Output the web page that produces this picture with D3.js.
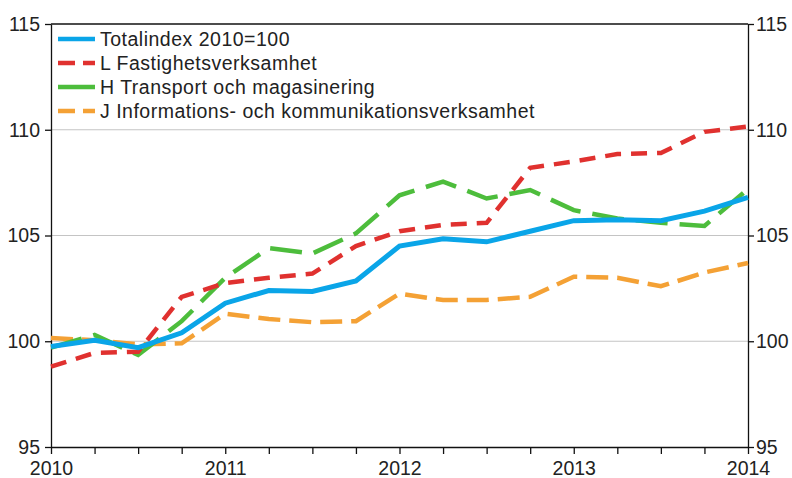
<!DOCTYPE html>
<html>
<head>
<meta charset="utf-8">
<script src="https://cdn.jsdelivr.net/npm/d3@7"></script>
<style>
  body { margin: 0; background: #fff; }
  text { font-family: "Liberation Sans", Arial, sans-serif; fill: #222; }
</style>
</head>
<body>
<div id="chart-area"></div>
<script>
// quarterly index, 2010 Q1 .. 2014 Q1
var years = [2010, 2011, 2012, 2013, 2014];
var yTicks = [95, 100, 105, 110, 115];

var totalindex = [99.75, 100.05, 99.7, 100.4, 101.8, 102.4, 102.35, 102.85, 104.5, 104.85, 104.7, 105.2, 105.7, 105.75, 105.7, 106.15, 106.8];
var fastighet  = [98.8, 99.45, 99.5, 102.1, 102.75, 103.0, 103.2, 104.5, 105.2, 105.5, 105.6, 108.2, 108.5, 108.85, 108.9, 109.9, 110.15];
var transport  = [99.7, 100.3, 99.35, 100.95, 103.0, 104.4, 104.15, 105.1, 106.9, 107.55, 106.75, 107.15, 106.2, 105.8, 105.6, 105.45, 107.2];
var informat   = [100.15, 100.05, 99.85, 99.9, 101.3, 101.05, 100.9, 100.95, 102.25, 101.95, 101.95, 102.1, 103.05, 103.0, 102.6, 103.25, 103.7];

var names = ["Totalindex 2010=100", "L Fastighetsverksamhet", "H Transport och magasinering", "J Informations- och kommunikationsverksamhet"];

var margin = { left: 51, right: 44, top: 24, bottom: 31 };
var W = 792, H = 478;
var width = W - margin.left - margin.right;
var height = H - margin.top - margin.bottom;

var svg = d3.select("#chart-area")
	.append("svg")
	.attr("width", W)
	.attr("height", H);

var g = svg.append("g")
	.attr("transform", "translate(" + margin.left + "," + margin.top + ")");

var x = d3.scaleLinear().domain([2010, 2014]).range([0, width]);
var y = d3.scaleLinear().domain([95, 115]).range([height, 0]);

// grid
g.selectAll(".grid")
	.data([100, 105, 110])
	.enter().append("line")
	.attr("x1", 0).attr("x2", width)
	.attr("y1", function (d) { return y(d) }).attr("y2", function (d) { return y(d) })
	.attr("stroke", "#c4c4c4").attr("stroke-width", 1.2);

g.append("line")
	.attr("x1", 0).attr("x2", width).attr("y1", 0).attr("y2", 0)
	.attr("stroke", "#111").attr("stroke-width", 1.3);

// axes
var quarterTicks = d3.range(0, 17).map(function (i) { return 2010 + i / 4 });

var bottom = g.append("g")
	.attr("transform", "translate(0," + height + ")")
	.call(d3.axisBottom(x).tickValues(quarterTicks).tickSize(7).tickSizeOuter(0)
		.tickFormat(function (d) { return years.indexOf(d) >= 0 ? d : "" }));
bottom.selectAll("text").attr("y", 28).attr("dy", 0).style("font-size", "19.5px");

var left = g.append("g")
	.call(d3.axisLeft(y).tickValues(yTicks).tickSize(6).tickSizeOuter(0));
left.selectAll("text").attr("x", -11).style("font-size", "19.5px");

var right = g.append("g")
	.attr("transform", "translate(" + width + ",0)")
	.call(d3.axisRight(y).tickValues(yTicks).tickSize(6).tickSizeOuter(0));
right.selectAll("text").attr("x", 8).style("font-size", "19.5px");

svg.selectAll(".domain, .tick line").attr("stroke", "#111").attr("stroke-width", 1.3);

// series, drawn bottom to top
var series = [
	{ name: names[3], values: informat, color: "#f4a135", dash: "22,9" },
	{ name: names[2], values: transport, color: "#4dbd3c", dash: "32,12" },
	{ name: names[1], values: fastighet, color: "#e0312f", dash: "16,10" },
	{ name: names[0], values: totalindex, color: "#0aa5e8", dash: null }
];

var line = d3.line()
	.x(function (d, i) { return x(2010 + i / 4) })
	.y(function (d) { return y(d) });

g.selectAll(".series")
	.data(series)
	.enter().append("path")
	.attr("d", function (d) { return line(d.values) })
	.attr("fill", "none")
	.attr("stroke", function (d) { return d.color })
	.attr("stroke-width", function (d) { return d.dash ? 4.5 : 5 })
	.attr("stroke-dasharray", function (d) { return d.dash });

// legend
var legendItems = [
	{ name: names[0], color: "#0aa5e8", dash: null },
	{ name: names[1], color: "#e0312f", dash: "17,8" },
	{ name: names[2], color: "#4dbd3c", dash: null },
	{ name: names[3], color: "#f4a135", dash: "17,8" }
];

var legend = svg.append("g").attr("transform", "translate(58,39)");
var rows = legend.selectAll("g")
	.data(legendItems)
	.enter().append("g")
	.attr("transform", function (d, i) { return "translate(0," + i * 24 + ")" });
rows.append("line")
	.attr("x1", 0).attr("x2", 37)
	.attr("stroke", function (d) { return d.color })
	.attr("stroke-width", 4.5)
	.attr("stroke-dasharray", function (d) { return d.dash });
rows.append("text")
	.attr("x", 42).attr("dy", "0.36em")
	.style("font-size", "19.5px")
	.style("letter-spacing", "0.5px")
	.text(function (d) { return d.name });
</script>
</body>
</html>
